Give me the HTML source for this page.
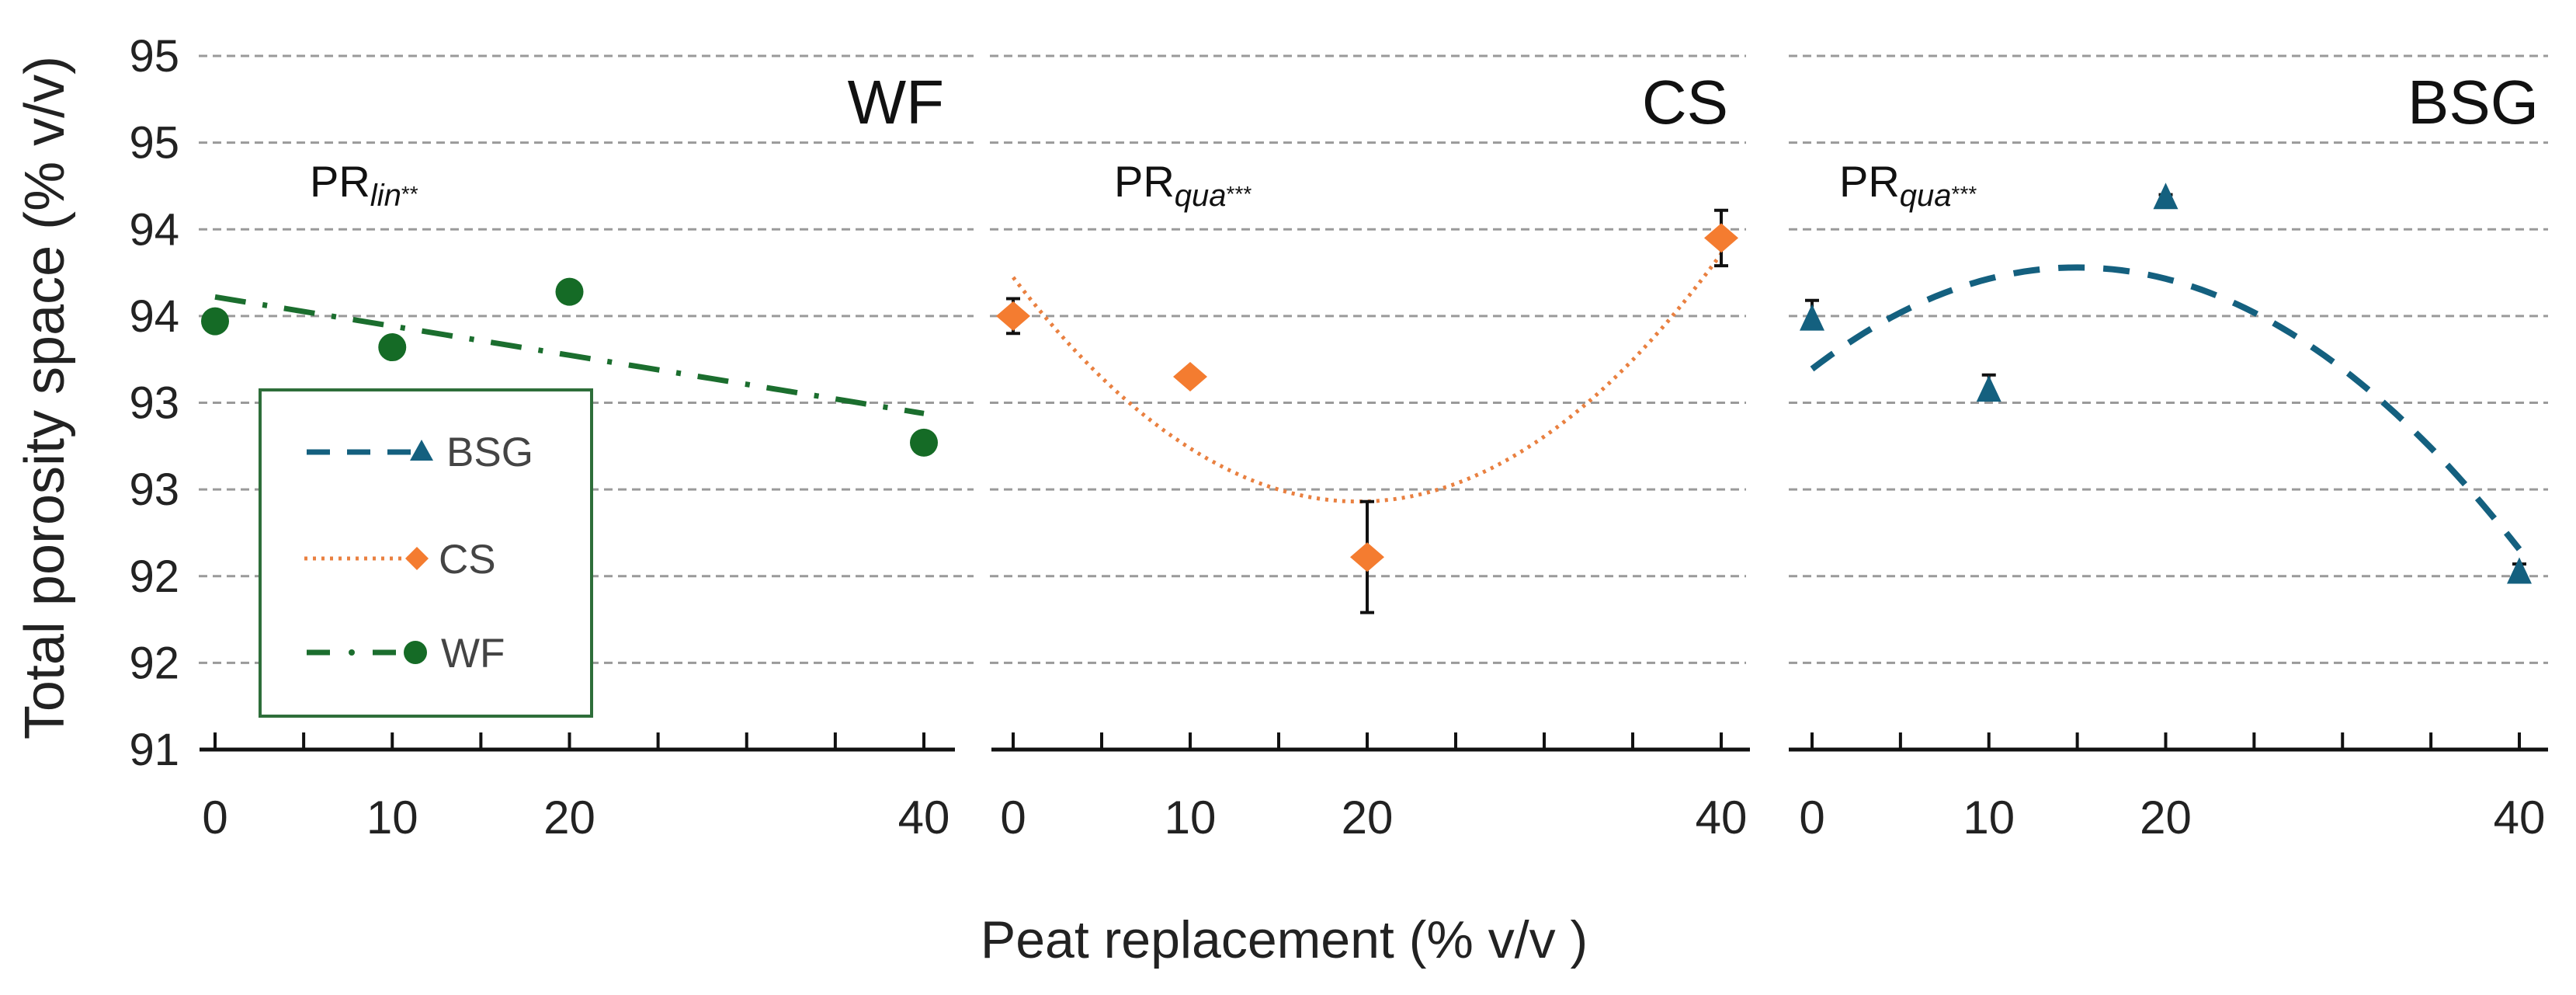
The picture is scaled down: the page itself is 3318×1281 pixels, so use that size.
<!DOCTYPE html>
<html><head><meta charset="utf-8">
<style>
html,body{margin:0;padding:0;background:#fff;}
svg{display:block;font-family:"Liberation Sans",Arial,sans-serif;}
</style></head>
<body>
<svg id="chart" width="3318" height="1281" viewBox="0 0 3318 1281" xmlns="http://www.w3.org/2000/svg">
  <g id="grid"></g>
  <g id="axes"></g>
  <g id="marks"></g>
  <text x="0" y="0" transform="translate(82,512) rotate(-90)" text-anchor="middle" font-size="72" fill="#222">Total porosity space (% v/v)</text>
  <text x="1654" y="1233" text-anchor="middle" font-size="68" fill="#222">Peat replacement (% v/v )</text>
  <text x="1216" y="159" text-anchor="end" font-size="80" fill="#111">WF</text>
  <text x="2226" y="159" text-anchor="end" font-size="80" fill="#111">CS</text>
  <text x="3270" y="159" text-anchor="end" font-size="80" fill="#111">BSG</text>
  <text x="399" y="253" font-size="56" fill="#111">PR<tspan font-size="40" font-style="italic" dy="12">lin</tspan><tspan font-size="28" dy="-6">**</tspan></text>
  <text x="1435" y="253" font-size="56" fill="#111">PR<tspan font-size="40" font-style="italic" dy="12">qua</tspan><tspan font-size="28" dy="-6">***</tspan></text>
  <text x="2369" y="253" font-size="56" fill="#111">PR<tspan font-size="40" font-style="italic" dy="12">qua</tspan><tspan font-size="28" dy="-6">***</tspan></text>
  <g>
    <rect x="335" y="502" width="427" height="420" fill="#fff" stroke="#2e6e3a" stroke-width="4"/>
    <g>
      <line x1="395" y1="582" x2="530" y2="582" stroke="#14607f" stroke-width="7" stroke-dasharray="30,22"/>
      <polygon points="543,566 558,593 528,593" fill="#14607f"/>
      <text x="575" y="600" font-size="53" fill="#444">BSG</text>
    </g>
    <g>
      <line x1="392" y1="719" x2="525" y2="719" stroke="#e98040" stroke-width="5" stroke-dasharray="4,7"/>
      <polygon points="537,704 552,719 537,734 522,719" fill="#f47c30"/>
      <text x="565" y="738" font-size="53" fill="#444">CS</text>
    </g>
    <g>
      <line x1="395" y1="840" x2="425" y2="840" stroke="#1b6e2e" stroke-width="7"/>
      <circle cx="453" cy="840" r="4" fill="#1b6e2e"/>
      <line x1="480" y1="840" x2="510" y2="840" stroke="#1b6e2e" stroke-width="7"/>
      <circle cx="535" cy="840" r="15" fill="#156b26"/>
      <text x="568" y="859" font-size="53" fill="#444">WF</text>
    </g>
  </g>
</svg>
<script>
// ---- data ----
const xValues = [0, 10, 20, 40];
const yTickLabels = ["91","92","92","93","93","94","94","95","95"];
const yTickValues = [91, 91.5, 92, 92.5, 93, 93.5, 94, 94.5, 95];
const xTickLabels = ["0","10","20","40"];
const wfMeans = [93.47, 93.32, 93.64, 92.77];
const wfErr   = [0.05, 0.02, 0.02, 0.05];
const csMeans = [93.5, 93.15, 92.11, 93.95];
const csErr   = [0.1, 0.02, 0.32, 0.16];
const bsgMeans = [93.47, 93.06, 94.17, 92.01];
const bsgErr   = [0.12, 0.1, 0.03, 0.06];
// fit coefficients a + b*x + c*x^2
const wfFit  = [93.61, -0.0168, 0];
const csFit  = [93.723, -0.1326, 0.0034];
const bsgFit = [93.195, 0.078, -0.0026];

const NS = "http://www.w3.org/2000/svg";
const Y0 = 965, Y1 = 72, VMIN = 91, VMAX = 95;
function yScale(v){ return Y0 - (v - VMIN) / (VMAX - VMIN) * (Y0 - Y1); }
const panels = [
  {name:"wf", x0:277, x40:1190, gl:256, gr:1254, al:257, ar:1230},
  {name:"cs", x0:1305, x40:2217, gl:1275, gr:2249, al:1277, ar:2254},
  {name:"bsg", x0:2334, x40:3245, gl:2304, gr:3282, al:2304, ar:3282}
];
function xScaleFor(p){ return v => p.x0 + v / 40 * (p.x40 - p.x0); }
function mk(tag, attrs, parent){
  const e = document.createElementNS(NS, tag);
  for (const k in attrs) e.setAttribute(k, attrs[k]);
  parent.appendChild(e); return e;
}
const grid = document.getElementById('grid');
const axes = document.getElementById('axes');
const marks = document.getElementById('marks');

yTickValues.forEach((v,i)=>{
  const t = mk('text',{x:231,y:yScale(v)+20,'text-anchor':'end','font-size':58,fill:'#222'},axes);
  
  
  t.textContent = yTickLabels[i];
});

panels.forEach(p=>{
  const xs = xScaleFor(p);
  yTickValues.slice(1).forEach(v=>{
    const l = mk('line',{x1:p.gl,x2:p.gr,y1:yScale(v),y2:yScale(v),stroke:'#9a9a9a','stroke-width':3,'stroke-dasharray':'11,7'},grid);
    
    
  });
  const ax = mk('line',{x1:p.al,x2:p.ar,y1:Y0,y2:Y0,stroke:'#111','stroke-width':5},axes);
  
  
  for(let k=0;k<=8;k++){
    const tx = xs(k*5);
    const tk = mk('line',{x1:tx,x2:tx,y1:Y0,y2:Y0-22,stroke:'#111','stroke-width':4},axes);
    
    
  }
  xValues.forEach((v,i)=>{
    const t = mk('text',{x:xs(v),y:1073,'text-anchor':'middle','font-size':60,fill:'#222'},axes);
    
    
    t.textContent = xTickLabels[i];
  });
});

function fitPath(p, coef, xmax){
  const xs = xScaleFor(p); let d = "";
  for(let x=0;x<=xmax+0.001;x+=0.5){
    const v = coef[0]+coef[1]*x+coef[2]*x*x;
    d += (x===0?"M":"L")+xs(x).toFixed(1)+","+yScale(v).toFixed(1);
  }
  return d;
}
function errBar(p, x, m, e, upOnly){
  const xs = xScaleFor(p); const cx = xs(x);
  const top = yScale(m+e), bot = upOnly ? yScale(m) : yScale(m-e);
  const g = mk('g',{},marks);
  
  
  mk('line',{x1:cx,x2:cx,y1:top,y2:bot,stroke:'#111','stroke-width':4},g);
  mk('line',{x1:cx-9,x2:cx+9,y1:top,y2:top,stroke:'#111','stroke-width':4},g);
  if(!upOnly) mk('line',{x1:cx-9,x2:cx+9,y1:bot,y2:bot,stroke:'#111','stroke-width':4},g);
}

{
  const p = panels[0], xs = xScaleFor(p);
  const path = mk('path',{d:fitPath(p,wfFit,40),fill:'none',stroke:'#1b6e2e','stroke-width':7,'stroke-dasharray':'40,22,6,22'},marks);
  
  
  xValues.forEach((x,i)=>{
    errBar(p,x,wfMeans[i],wfErr[i],false);
    const c = mk('circle',{cx:xs(x),cy:yScale(wfMeans[i]),r:18,fill:'#156b26'},marks);
    
    
  });
}
{
  const p = panels[1], xs = xScaleFor(p);
  const path = mk('path',{d:fitPath(p,csFit,40),fill:'none',stroke:'#e98040','stroke-width':5,'stroke-dasharray':'4,7'},marks);
  
  
  xValues.forEach((x,i)=>{
    errBar(p,x,csMeans[i],csErr[i],false);
    const cx = xs(x), cy = yScale(csMeans[i]);
    const d = mk('polygon',{points:`${cx},${cy-19} ${cx+22},${cy} ${cx},${cy+19} ${cx-22},${cy}`,fill:'#f47c30'},marks);
    
    
  });
}
{
  const p = panels[2], xs = xScaleFor(p);
  const path = mk('path',{d:fitPath(p,bsgFit,40),fill:'none',stroke:'#14607f','stroke-width':8,'stroke-dasharray':'34,24'},marks);
  
  
  xValues.forEach((x,i)=>{
    errBar(p,x,bsgMeans[i],bsgErr[i],true);
    const cx = xs(x), cy = yScale(bsgMeans[i]);
    const t = mk('polygon',{points:`${cx},${cy-22} ${cx+16},${cy+12} ${cx-16},${cy+12}`,fill:'#14607f'},marks);
    
    
  });
}
</script>
</body></html>
